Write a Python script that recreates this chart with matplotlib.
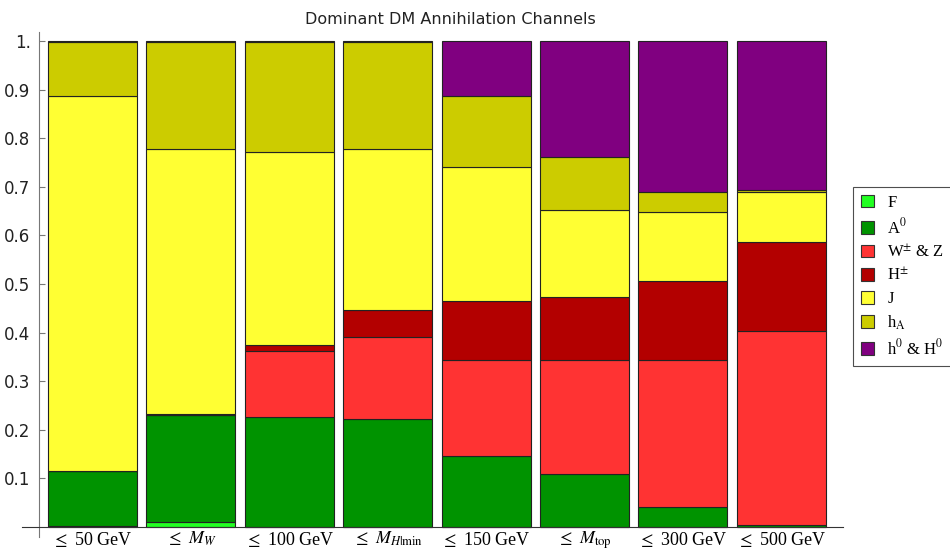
import matplotlib.pyplot as plt
from matplotlib.patches import Patch
import numpy as np

plt.rcParams['mathtext.fontset'] = 'stix'

# Mass bins
bins = [r'$\leq$ 50 GeV', r'$\leq$ $M_W$', r'$\leq$ 100 GeV', r'$\leq$ $M_{H|\mathrm{min}}$',
        r'$\leq$ 150 GeV', r'$\leq$ $M_{\mathrm{top}}$', r'$\leq$ 300 GeV', r'$\leq$ 500 GeV']

# Fraction of each annihilation channel per bin
F_frac = [0.002, 0.010, 0.000, 0.000, 0.000, 0.000, 0.000, 0.000]
A0_frac = [0.113, 0.220, 0.226, 0.222, 0.146, 0.109, 0.041, 0.004]
WZ_frac = [0.000, 0.000, 0.136, 0.169, 0.198, 0.235, 0.303, 0.399]
Hpm_frac = [0.000, 0.002, 0.012, 0.056, 0.121, 0.129, 0.162, 0.183]
J_frac = [0.772, 0.546, 0.398, 0.331, 0.276, 0.179, 0.142, 0.103]
hA_frac = [0.110, 0.220, 0.226, 0.220, 0.146, 0.109, 0.041, 0.004]
h0H0_frac = [0.003, 0.002, 0.002, 0.002, 0.113, 0.239, 0.311, 0.307]

channels = ['F', r'A$^0$', r'W$^{\pm}$ & Z', r'H$^{\pm}$', 'J', r'h$_\mathrm{A}$', r'h$^0$ & H$^0$']
fractions = [F_frac, A0_frac, WZ_frac, Hpm_frac, J_frac, hA_frac, h0H0_frac]
colors = ['#22ff22', '#009300', '#ff3333', '#b30000', '#ffff33', '#cccc00', '#800080']

fig = plt.figure(figsize=(9.5, 5.48), dpi=100)
ax = fig.add_axes([22 / 950, 1 - 537 / 548, (843 - 22) / 950, (537 - 32) / 548])

x = np.arange(len(bins))
bottom = np.zeros(len(bins))
for vals, col in zip(fractions, colors):
    ax.bar(x, vals, width=0.905, bottom=bottom, color=col,
           edgecolor='#222222', linewidth=0.8)
    bottom += np.array(vals)

ax.set_xlim(-0.716, 7.627)
ax.set_ylim(-0.0206, 1.0185)

for s in ['top', 'right']:
    ax.spines[s].set_visible(False)
ax.spines['left'].set_position(('data', -0.544))
ax.spines['bottom'].set_position(('data', 0))
ax.spines['left'].set_color('#777777')
ax.spines['bottom'].set_color('#333333')

ax.set_yticks([0.1, 0.2, 0.3, 0.4, 0.5, 0.6, 0.7, 0.8, 0.9, 1.0])
ax.set_yticklabels(['0.1', '0.2', '0.3', '0.4', '0.5', '0.6', '0.7', '0.8', '0.9', '1.'],
                   fontsize=12, color='#222222')
ax.tick_params(axis='y', direction='in', length=4, color='#777777', pad=6)
ax.set_xticks(x)
ax.set_xticklabels(bins, fontsize=13, family='Liberation Serif')
ax.tick_params(axis='x', length=0, pad=2)

fig.text(0.474, 0.965, 'Dominant DM Annihilation Channels', ha='center', va='center',
         fontsize=11.5, color='#222222')

handles = [Patch(facecolor=c, edgecolor='#333333', linewidth=0.8) for c in colors]
leg = fig.legend(handles, channels, loc='upper left', bbox_to_anchor=(853 / 950, 1 - 187 / 548),
                 prop={'family': 'Liberation Serif', 'size': 12}, frameon=True, fancybox=False,
                 edgecolor='#222222', handlelength=0.8, handleheight=0.8, handletextpad=0.8,
                 labelspacing=0.38, borderpad=0.45, borderaxespad=0)
leg.get_frame().set_linewidth(0.8)

plt.savefig('out.png', dpi=100)
plt.close()
